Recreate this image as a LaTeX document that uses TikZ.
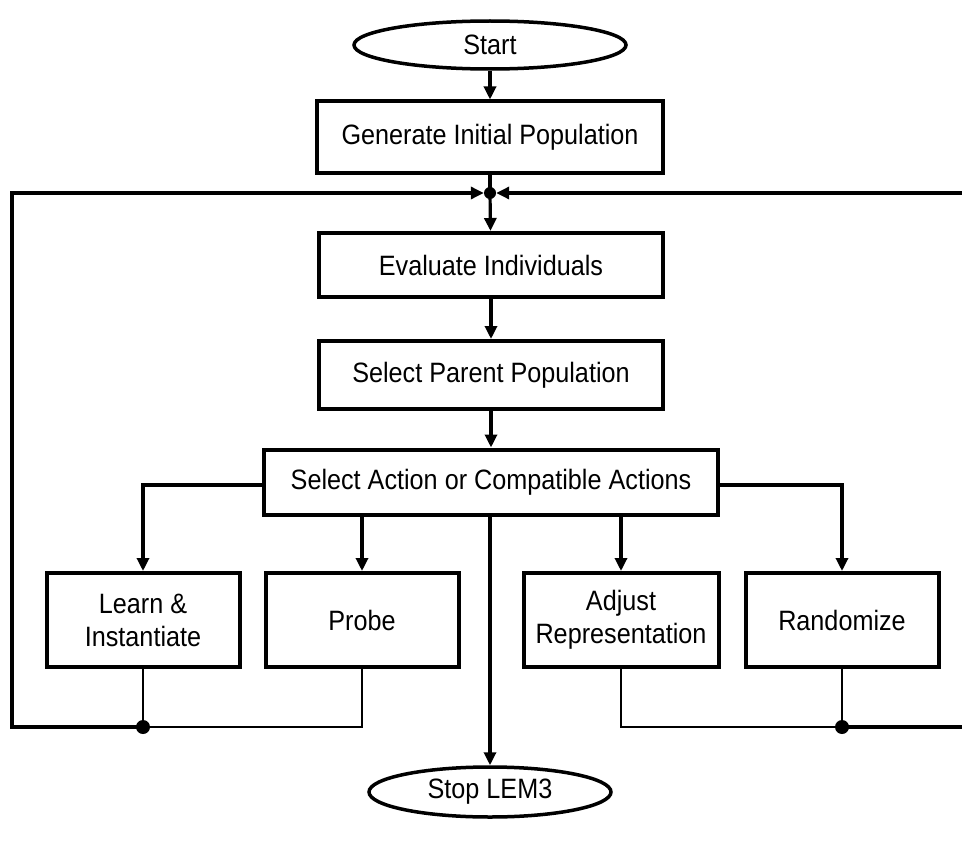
\documentclass[tikz,border=0pt]{standalone}
\usepackage{fontspec}
\setmainfont{Liberation Sans}[FakeStretch=0.9]
\usetikzlibrary{shapes,positioning,arrows.meta}

\begin{document}
\begin{tikzpicture}[x=1pt,y=-1pt,on grid,
    >={Triangle[length=13pt,width=12pt]},
    every node/.style={font=\fontsize{28}{33}\selectfont},
    box/.style={draw,line width=4pt,inner sep=0pt,align=center},
    term/.style={ellipse,draw,line width=3.5pt,inner sep=0pt},
    flow/.style={line width=3.2pt},
    back/.style={line width=2pt},
    dot/.style={circle,fill,inner sep=0pt,minimum size=14pt}]
    \useasboundingbox (0,0) rectangle (962,843);

    \node[term, minimum width=272pt, minimum height=48pt] (start) at (490,45) {Start};
    \node[box, minimum width=346pt, minimum height=71pt] (gen) [below=92pt of start] {Generate Initial Population};
    \node[dot, minimum size=12pt] (join) at (490,193) {};
    \node[box, minimum width=344pt, minimum height=64pt] (eval) at (491,265) {Evaluate Individuals};
    \node[box, minimum width=344pt, minimum height=68pt] (parent) [below=110pt of eval] {Select Parent Population};
    \node[box, minimum width=454pt, minimum height=65pt] (action) [below=107pt of parent] {Select Action or Compatible Actions};

    \node[box, minimum width=193pt, minimum height=94pt] (learn) [below left=138pt and 348pt of action] {Learn \&\\ Instantiate};
    \node[box, minimum width=193pt, minimum height=94pt] (probe) [below left=138pt and 129pt of action] {Probe};
    \node[box, minimum width=195pt, minimum height=94pt] (adjust) [below right=138pt and 130pt of action] {Adjust\\ Representation};
    \node[box, minimum width=193pt, minimum height=94pt] (random) [below right=138pt and 351pt of action] {Randomize};
    \node[term, minimum width=242pt, minimum height=50pt] (stop) at (490,792) {Stop LEM3};

    \node[dot] (ldot) at (learn |- 0,727) {};
    \node[dot] (rdot) at (random |- 0,727) {};
    \coordinate (lcorner) at (12,727);
    \coordinate (ltop) at (12,193);
    \coordinate (rcorner) at (975,727);
    \coordinate (rtop) at (975,193);

    % main line
    \draw[flow,->] (start) -- (gen);
    \draw[flow] (gen) -- (join.center);
    \draw[flow,->] (join.center) -- (eval);
    \draw[flow,->] (eval) -- (parent);
    \draw[flow,->] (parent) -- (action);
    \draw[flow,->] (action.south -| stop) -- (stop);

    % actions
    \draw[flow,->] (action.west |- 0,485) -| (learn);
    \draw[flow,->] (action.south -| probe) -- (probe);
    \draw[flow,->] (action.south -| adjust) -- (adjust);
    \draw[flow,->] (action.east |- 0,485) -| (random);

    % back to evaluation
    \draw[back] (learn.south) -- (ldot.center) -- (ldot -| probe) -- (probe.south);
    \draw[back] (adjust.south) -- (rdot -| adjust) -- (rdot.center) -- (random.south);
    \draw[flow,->] (ldot.center) -- (lcorner) -- (ltop) -- (join.west);
    \draw[flow,->] (rdot.center) -- (rcorner) -- (rtop) -- (join.east);
\end{tikzpicture}
\end{document}
